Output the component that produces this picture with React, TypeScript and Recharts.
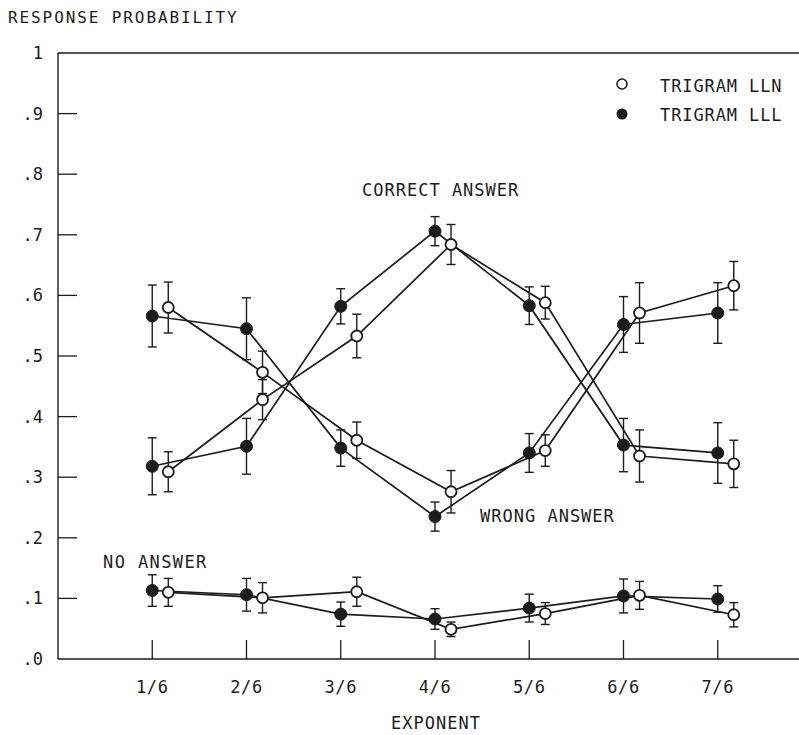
import React from "react";
import { LineChart, Line, XAxis, YAxis, ErrorBar, ReferenceLine } from "recharts";

const exponents = [1, 2, 3, 4, 5, 6, 7];
const exponentLabels = ["1/6", "2/6", "3/6", "4/6", "5/6", "6/6", "7/6"];
const yTicks = [0, 0.1, 0.2, 0.3, 0.4, 0.5, 0.6, 0.7, 0.8, 0.9, 1];
const yTickLabels = [".0", ".1", ".2", ".3", ".4", ".5", ".6", ".7", ".8", ".9", "1"];

// open circles (LLN) are drawn slightly right of the tick
const llnShift = 0.17;

const correctLLN = [0.309, 0.428, 0.533, 0.684, 0.588, 0.335, 0.322];
const correctLLNErr = [0.033, 0.033, 0.036, 0.033, 0.027, 0.043, 0.039];
const correctLLL = [0.318, 0.351, 0.582, 0.706, 0.583, 0.353, 0.34];
const correctLLLErr = [0.047, 0.046, 0.029, 0.024, 0.031, 0.044, 0.05];

const wrongLLN = [0.58, 0.473, 0.361, 0.276, 0.344, 0.571, 0.616];
const wrongLLNErr = [0.042, 0.035, 0.03, 0.035, 0.026, 0.05, 0.04];
const wrongLLL = [0.566, 0.545, 0.348, 0.235, 0.34, 0.552, 0.571];
const wrongLLLErr = [0.051, 0.051, 0.03, 0.024, 0.032, 0.046, 0.05];

const noAnswerLLN = [0.11, 0.101, 0.111, 0.049, 0.075, 0.105, 0.073];
const noAnswerLLNErr = [0.023, 0.025, 0.024, 0.012, 0.018, 0.023, 0.02];
const noAnswerLLL = [0.113, 0.106, 0.074, 0.066, 0.084, 0.104, 0.099];
const noAnswerLLLErr = [0.026, 0.027, 0.02, 0.017, 0.023, 0.028, 0.022];

const ink = "#1c1c1c";
const font = "'DejaVu Sans Mono', monospace";

const toPoints = (values: number[], errs: number[], shift: number) =>
  exponents.map((e, i) => ({ x: e + shift, y: values[i], err: errs[i] }));

const series = [
  { name: "correctLLL", data: toPoints(correctLLL, correctLLLErr, 0), open: false },
  { name: "correctLLN", data: toPoints(correctLLN, correctLLNErr, llnShift), open: true },
  { name: "wrongLLL", data: toPoints(wrongLLL, wrongLLLErr, 0), open: false },
  { name: "wrongLLN", data: toPoints(wrongLLN, wrongLLNErr, llnShift), open: true },
  { name: "noLLL", data: toPoints(noAnswerLLL, noAnswerLLLErr, 0), open: false },
  { name: "noLLN", data: toPoints(noAnswerLLN, noAnswerLLNErr, llnShift), open: true },
];

const XTick = (props: any) => {
  const { x, y, payload } = props;
  const i = exponents.indexOf(payload.value);
  return (
    <g>
      <line x1={x} x2={x} y1={y} y2={y - 19} stroke={ink} strokeWidth={1.3} />
      <text x={x} y={y + 34} textAnchor="middle" fontFamily={font} fontSize={17} fill={ink} letterSpacing={0.6}>
        {exponentLabels[i]}
      </text>
    </g>
  );
};

const YTick = (props: any) => {
  const { x, y, payload } = props;
  const i = yTicks.indexOf(payload.value);
  const inner = payload.value > 0 && payload.value < 1;
  return (
    <g>
      {inner && <line x1={x} x2={x + 19} y1={y} y2={y} stroke={ink} strokeWidth={1.3} />}
      <text x={x - 15} y={y + 6} textAnchor="end" fontFamily={font} fontSize={17} fill={ink}>
        {yTickLabels[i]}
      </text>
    </g>
  );
};

export default function App() {
  return (
    <div style={{ position: "absolute", left: 0, top: 0, width: 799, height: 735, overflow: "hidden", background: "#fff" }}>
      <LineChart width={812} height={735} margin={{ top: 53, right: 0, bottom: 46, left: 18 }}>
        <XAxis
          dataKey="x"
          type="number"
          domain={[0, 8]}
          ticks={exponents}
          interval={0}
          height={30}
          tickSize={0}
          tickMargin={0}
          tick={<XTick />}
          axisLine={{ stroke: ink, strokeWidth: 1.7 }}
          tickLine={false}
          allowDataOverflow
        />
        <YAxis
          type="number"
          domain={[0, 1]}
          ticks={yTicks}
          interval={0}
          width={40}
          tickSize={0}
          tickMargin={0}
          tick={<YTick />}
          axisLine={{ stroke: ink, strokeWidth: 1.4 }}
          tickLine={false}
          allowDataOverflow
        />
        <ReferenceLine y={1} stroke={ink} strokeWidth={1.7} />
        {series.map((s) => (
          <Line
            key={s.name}
            data={s.data}
            dataKey="y"
            type="linear"
            stroke={ink}
            strokeWidth={1.7}
            dot={false}
            activeDot={false}
            isAnimationActive={false}
          >
            <ErrorBar dataKey="err" direction="y" width={4.5} stroke={ink} strokeWidth={1.4} />
          </Line>
        ))}
        {series.map((s) => (
          <Line
            key={s.name + "-dots"}
            data={s.data}
            dataKey="y"
            type="linear"
            stroke="none"
            dot={
              s.open
                ? { r: 5.5, fill: "#fff", stroke: ink, strokeWidth: 1.8 }
                : { r: 6, fill: ink, stroke: ink, strokeWidth: 1 }
            }
            activeDot={false}
            isAnimationActive={false}
          />
        ))}
      </LineChart>
      <svg width={799} height={735} style={{ position: "absolute", left: 0, top: 0, pointerEvents: "none" }}>
        <g fontFamily={font} fill={ink}>
          <text x={8} y={23} fontSize={16} letterSpacing={1.9}>RESPONSE PROBABILITY</text>
          <text x={362} y={196} fontSize={17} letterSpacing={1}>CORRECT ANSWER</text>
          <text x={480} y={522} fontSize={17} letterSpacing={1}>WRONG ANSWER</text>
          <text x={103} y={568} fontSize={17} letterSpacing={1.4}>NO ANSWER</text>
          <text x={436} y={729} fontSize={17} letterSpacing={1} textAnchor="middle">EXPONENT</text>
          <circle cx={622} cy={84} r={5} fill="#fff" stroke={ink} strokeWidth={1.6} />
          <text x={660} y={92} fontSize={17} letterSpacing={0.9}>TRIGRAM LLN</text>
          <circle cx={622} cy={114} r={5.5} fill={ink} />
          <text x={660} y={121} fontSize={17} letterSpacing={0.9}>TRIGRAM LLL</text>
        </g>
      </svg>
    </div>
  );
}
